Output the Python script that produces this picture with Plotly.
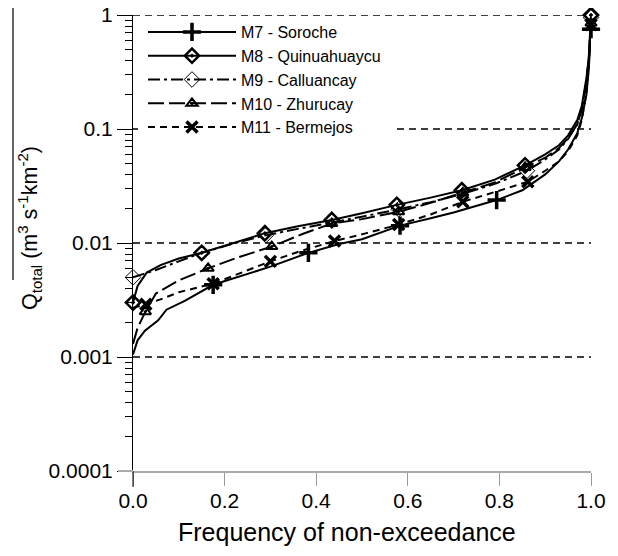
import plotly.graph_objects as go

# ---------------- data ----------------
GRID_LEVELS = [1.0, 0.1, 0.01, 0.001]
X_TICKS = [0.0, 0.2, 0.4, 0.6, 0.8, 1.0]
X_TICK_LABELS = ["0.0", "0.2", "0.4", "0.6", "0.8", "1.0"]
Y_TICKS = [0.0001, 0.001, 0.01, 0.1, 1.0]
Y_TICK_LABELS = ["0.0001", "0.001", "0.01", "0.1", "1"]

m7_x = [0.0, 0.005, 0.01, 0.026, 0.04, 0.055, 0.073, 0.113, 0.175, 0.25, 0.30, 0.383, 0.45, 0.50,
        0.583, 0.65, 0.70, 0.794, 0.85, 0.90, 0.93, 0.95, 0.97, 0.98, 0.99, 0.995, 1.0]
m7_y = [0.00105, 0.0012, 0.0014, 0.0017, 0.0019, 0.0021, 0.0026, 0.0031, 0.0043, 0.0054, 0.0062,
        0.0082, 0.0098, 0.0108, 0.0142, 0.0165, 0.0185, 0.0238, 0.029, 0.040, 0.052, 0.066,
        0.092, 0.125, 0.20, 0.33, 0.75]
m7_marks = [0.175, 0.383, 0.583, 0.794, 1.0]

m8_x = [0.0, 0.01, 0.03, 0.06, 0.10, 0.15, 0.22, 0.288, 0.36, 0.434, 0.50, 0.576, 0.65, 0.718,
        0.79, 0.856, 0.90, 0.93, 0.95, 0.97, 0.98, 0.99, 0.995, 1.0]
m8_y = [0.0030, 0.0042, 0.0055, 0.0064, 0.0073, 0.0082, 0.0100, 0.0122, 0.0140, 0.0159, 0.0182,
        0.0216, 0.0250, 0.029, 0.036, 0.048, 0.060, 0.072, 0.088, 0.12, 0.16, 0.28, 0.42, 1.0]
m8_marks = [0.0, 0.15, 0.288, 0.434, 0.576, 0.718, 0.856, 1.0]

m9_x = [0.0, 0.02, 0.05, 0.10, 0.15, 0.22, 0.29, 0.36, 0.43, 0.50, 0.58, 0.65, 0.72, 0.79,
        0.86, 0.90, 0.93, 0.95, 0.97, 0.98, 0.99, 0.995, 1.0]
m9_y = [0.0050, 0.0053, 0.0058, 0.0069, 0.0082, 0.0099, 0.0117, 0.0133, 0.0150, 0.0170, 0.0198,
        0.0228, 0.0270, 0.033, 0.043, 0.054, 0.066, 0.082, 0.11, 0.15, 0.26, 0.40, 0.95]
m9_marks = [0.0, 0.29, 0.58, 0.86, 1.0]

m10_x = [0.0, 0.01, 0.027, 0.05, 0.10, 0.164, 0.23, 0.303, 0.37, 0.434, 0.50, 0.58, 0.65, 0.72,
         0.79, 0.856, 0.90, 0.93, 0.95, 0.97, 0.98, 0.99, 0.995, 1.0]
m10_y = [0.0013, 0.0018, 0.0025, 0.0036, 0.0047, 0.0060, 0.0075, 0.0093, 0.0120, 0.0148, 0.0162,
         0.0188, 0.0225, 0.0275, 0.034, 0.046, 0.056, 0.068, 0.083, 0.11, 0.15, 0.26, 0.40, 0.85]
m10_marks = [0.027, 0.164, 0.303, 0.434, 0.58, 0.72, 0.856, 1.0]

m11_x = [0.0, 0.028, 0.06, 0.10, 0.175, 0.24, 0.30, 0.37, 0.44, 0.51, 0.58, 0.65, 0.72, 0.79,
         0.862, 0.90, 0.93, 0.95, 0.97, 0.98, 0.99, 0.995, 1.0]
m11_y = [0.0027, 0.0029, 0.0032, 0.0037, 0.0044, 0.0056, 0.0069, 0.0086, 0.0104, 0.0122, 0.0145,
         0.0178, 0.0230, 0.0280, 0.0345, 0.043, 0.052, 0.064, 0.088, 0.12, 0.21, 0.34, 0.82]
m11_marks = [0.028, 0.175, 0.30, 0.44, 0.58, 0.72, 0.862, 1.0]

series = [
    ("M7 - Soroche", m7_x, m7_y, m7_marks),
    ("M8 - Quinuahuaycu", m8_x, m8_y, m8_marks),
    ("M9 - Calluancay", m9_x, m9_y, m9_marks),
    ("M10 - Zhurucay", m10_x, m10_y, m10_marks),
    ("M11 - Bermejos", m11_x, m11_y, m11_marks),
]

# ---------------- styles ----------------
styles = [
    dict(dash="solid", symbol="cross-thin", size=13, mlw=3.5),
    dict(dash="solid", symbol="diamond-open-dot", size=11, mlw=2.5),
    dict(dash="12px,4px,3px,4px", symbol="diamond-open", size=12, mlw=1),
    dict(dash="16px,5px", symbol="triangle-up-open-dot", size=10, mlw=2),
    dict(dash="7px,5px", symbol="x-thin", size=11, mlw=3.5),
]

fig = go.Figure()
for (name, xs, ys, marks), st in zip(series, styles):
    fig.add_trace(go.Scatter(
        x=xs, y=ys, mode="lines", showlegend=False, cliponaxis=False,
        line=dict(color="black", width=2, dash=st["dash"]), hoverinfo="skip"))
    mx = [x for x in xs if x in marks]
    my = [y for x, y in zip(xs, ys) if x in marks]
    fig.add_trace(go.Scatter(
        x=mx, y=my, mode="markers", showlegend=False, cliponaxis=False,
        marker=dict(symbol=st["symbol"], size=st["size"], color="black",
                    line=dict(color="black", width=st["mlw"]))))
    # legend entry
    fig.add_trace(go.Scatter(
        x=[None], y=[None], mode="lines+markers", name=name,
        line=dict(color="black", width=2, dash=st["dash"]),
        marker=dict(symbol=st["symbol"], size=st["size"], color="black",
                    line=dict(color="black", width=st["mlw"]))))

# page has an 8px body margin: figure is drawn from (8, 8)
OFF = 8
W, H = 618 - OFF, 556 - OFF
PL, PR, PT, PB = 133, 591, 15, 471          # plot area in page pixels
L, T = PL - OFF, PT - OFF
R, B = (618 - PR), (556 - PB)
pw, ph = PR - PL, PB - PT
YLOG_MIN, YLOG_MAX = -4, 0


def px(xp):
    return (xp - PL) / pw


def py(yp):
    return (PB - yp) / ph


def ydata(yp):
    return 10 ** (YLOG_MIN + (YLOG_MAX - YLOG_MIN) * py(yp))


# dashed reference lines
for lv in GRID_LEVELS:
    fig.add_shape(type="line", xref="x", yref="y", x0=0, x1=1, y0=lv, y1=lv,
                  line=dict(color="black", width=1.5, dash="7px,5px"), layer="below")

# white legend box background (hides the dashed lines behind the legend)
fig.add_shape(type="rect", xref="x", yref="y", x0=px(138), x1=px(395), y0=ydata(137),
              y1=ydata(22), fillcolor="white", line=dict(width=0), layer="below")

# overline over the y title and small axis extensions
fig.add_shape(type="line", xref="paper", yref="paper", x0=px(13), x1=px(13), y0=py(5), y1=py(280),
              line=dict(color="black", width=1.2))
fig.add_shape(type="line", xref="paper", yref="paper", x0=0, x1=0, y0=0, y1=py(487),
              line=dict(color="black", width=1))
fig.add_shape(type="line", xref="paper", yref="paper", x0=px(118), x1=0, y0=0, y1=0,
              line=dict(color="#aaaaaa", width=2))

fig.add_annotation(xref="paper", yref="paper", x=px(30), y=py(228), textangle=-90,
                   text="Q<sub>total</sub> (m<sup>3</sup> s<sup>-1</sup>km<sup>-2</sup>)",
                   showarrow=False, font=dict(size=21.5, color="black"),
                   xanchor="center", yanchor="middle")
fig.add_annotation(xref="paper", yref="paper", x=px(347), y=py(532),
                   text="Frequency of non-exceedance", showarrow=False,
                   font=dict(size=25, color="black"), xanchor="center", yanchor="middle")

fig.update_layout(
    width=W, height=H,
    margin=dict(l=L, r=R, t=T, b=B, autoexpand=False),
    paper_bgcolor="white", plot_bgcolor="white",
    font=dict(family="Liberation Sans, Arial, sans-serif", color="black"),
    legend=dict(x=px(143), y=1.0, xanchor="left", yanchor="top", bgcolor="rgba(0,0,0,0)",
                font=dict(size=16), itemwidth=88, tracegroupgap=0),
    xaxis=dict(range=[0, 1], tickvals=X_TICKS, ticktext=X_TICK_LABELS, ticks="outside",
               ticklen=13, tickcolor="#999999", showline=True, linecolor="#aaaaaa", linewidth=2,
               showgrid=False, zeroline=False, tickfont=dict(size=21), automargin=False,
               ticklabelstandoff=-3, ticklabeloverflow="allow"),
    yaxis=dict(type="log", range=[YLOG_MIN, YLOG_MAX], tickvals=Y_TICKS, ticktext=Y_TICK_LABELS,
               ticks="outside", ticklen=15, tickcolor="black", showline=True, linecolor="black",
               linewidth=1, showgrid=False, zeroline=False, tickfont=dict(size=21),
               automargin=False, ticklabeloverflow="allow",
               minor=dict(ticks="outside", ticklen=7, tickcolor="black", dtick="D1", showgrid=False)),
)

fig.write_html("out.html")
